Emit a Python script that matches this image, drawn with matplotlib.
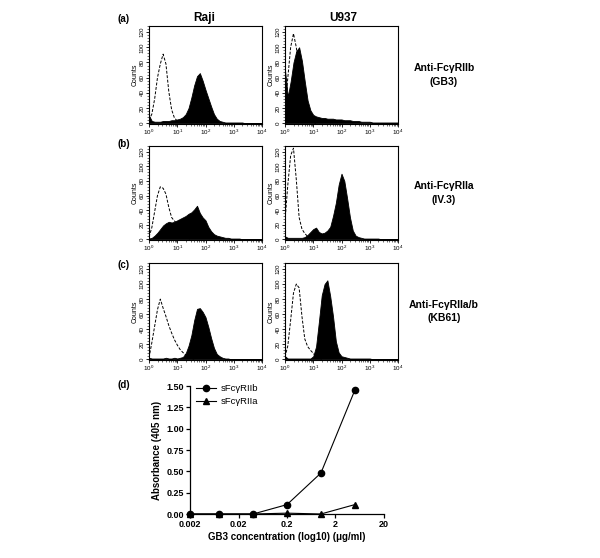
import numpy as np
import matplotlib.pyplot as plt
from matplotlib.ticker import MultipleLocator, LogLocator, NullFormatter

plt.rcParams['font.family'] = ['Liberation Sans', 'DejaVu Sans']

# ==============================================================================
# DATA
# ==============================================================================
# fluorescence channel (log10 units), 0.1 decade steps from 10^0 to 10^4
log_channel = [0.0, 0.1, 0.2, 0.3, 0.4, 0.5, 0.6, 0.7, 0.8, 0.9,
               1.0, 1.1, 1.2, 1.3, 1.4, 1.5, 1.6, 1.7, 1.8, 1.9,
               2.0, 2.1, 2.2, 2.3, 2.4, 2.5, 2.6, 2.7, 2.8, 2.9,
               3.0, 3.1, 3.2, 3.3, 3.4, 3.5, 3.6, 3.7, 3.8, 3.9, 4.0]

# isotype controls (dashed) - only the part above baseline
iso_a_raji = [4, 12, 32, 60, 78, 91, 78, 42, 18, 7, 3, 2, 1, 1, 1, 0]
iso_a_u937 = [20, 60, 100, 118, 100, 70, 35, 12, 5, 2, 1, 0]
iso_b_raji = [3, 16, 38, 60, 72, 70, 62, 44, 30, 25, 22, 12, 6, 3, 1, 0]
iso_b_u937 = [25, 75, 115, 125, 82, 30, 14, 8, 4, 2, 1, 0]
iso_c_raji = [2, 22, 44, 66, 80, 68, 57, 45, 35, 26, 19, 13, 9, 6, 3, 1, 0]
iso_c_u937 = [3, 18, 52, 88, 100, 95, 57, 27, 17, 12, 8, 3, 1, 0]

# specific staining (filled black)
stain_a_raji = [10, 3, 2, 2, 2, 3, 3, 3, 4, 4,
                5, 6, 8, 12, 20, 34, 50, 62, 66, 56,
                44, 33, 22, 12, 6, 3, 2, 1, 1, 1,
                1, 1, 1, 1, 0, 0, 0, 0, 0, 0, 0]
stain_a_u937 = [70, 35, 55, 80, 95, 100, 82, 55, 30, 17,
                11, 9, 8, 7, 7, 6, 6, 6, 5, 5,
                5, 4, 4, 4, 3, 3, 3, 2, 2, 2,
                2, 1, 1, 1, 1, 1, 1, 1, 1, 1, 1]
stain_b_raji = [1, 2, 5, 9, 14, 19, 22, 24, 23, 24,
                26, 28, 30, 32, 35, 37, 41, 46, 36, 30,
                26, 17, 11, 7, 5, 4, 3, 2, 2, 1,
                1, 1, 1, 0, 0, 0, 0, 0, 0, 0, 0]
stain_b_u937 = [4, 2, 2, 2, 2, 2, 2, 3, 6, 10,
                14, 16, 10, 8, 9, 12, 17, 32, 50, 75,
                90, 80, 56, 30, 12, 5, 3, 2, 1, 1,
                1, 1, 1, 1, 0, 0, 0, 0, 0, 0, 0]
stain_c_raji = [2, 1, 1, 1, 1, 1, 2, 1, 1, 2,
                1, 2, 3, 8, 18, 32, 52, 67, 68, 63,
                56, 43, 28, 15, 7, 4, 2, 1, 1, 0,
                0, 0, 0, 0, 0, 0, 0, 0, 0, 0, 0]
stain_c_u937 = [4, 1, 1, 1, 1, 1, 1, 1, 1, 1,
                4, 17, 50, 85, 100, 105, 84, 57, 24, 9,
                4, 3, 2, 1, 1, 1, 1, 1, 1, 1,
                1, 0, 0, 0, 0, 0, 0, 0, 0, 0, 0]

cell_lines = ['Raji', 'U937']
antibodies = ['Anti-FcγRIIb\n(GB3)', 'Anti-FcγRIIa\n(IV.3)', 'Anti-FcγRIIa/b\n(KB61)']
panel_tags = ['(a)', '(b)', '(c)', '(d)']

# ELISA (d)
gb3_conc = [0.002, 0.008, 0.04, 0.2, 1, 5]
abs_sRIIb = [0.0, 0.0, 0.0, 0.11, 0.48, 1.45]
abs_sRIIa = [0.0, 0.0, 0.0, 0.01, 0.0, 0.11]
conc_ticks = [0.002, 0.02, 0.2, 2, 20]
conc_labels = ['0.002', '0.02', '0.2', '2', '20']

# ==============================================================================
# FIGURE
# ==============================================================================
fig = plt.figure(figsize=(6, 5.58), dpi=100)
W, H = 600.0, 558.0


def px_axes(x0, y0, x1, y1):
    # axes from pixel box (top-left origin)
    return fig.add_axes([x0 / W, 1 - y1 / H, (x1 - x0) / W, (y1 - y0) / H])


def draw_hist(ax, iso, stain):
    x = 10.0 ** np.array(log_channel)
    ax.fill_between(x, stain, color='black', lw=0.6, edgecolor='black')
    ax.plot(x[:len(iso)], iso, color='black', ls=(0, (3, 1.6)), lw=0.7)
    ax.set_xscale('log')
    ax.set_xlim(1, 1e4)
    ax.set_ylim(-1, 128)
    ax.set_yticks([0, 20, 40, 60, 80, 100, 120])
    ax.yaxis.set_minor_locator(MultipleLocator(4))
    ax.xaxis.set_major_locator(LogLocator(base=10, numticks=10))
    ax.xaxis.set_minor_locator(LogLocator(base=10, subs=np.arange(2, 10), numticks=10))
    ax.xaxis.set_minor_formatter(NullFormatter())
    ax.tick_params(which='major', labelsize=4.5, length=2, width=0.6, pad=1)
    ax.tick_params(which='minor', length=1.2, width=0.4)
    for lab in ax.get_yticklabels():
        lab.set_rotation(90)
        lab.set_va('center')
    ax.set_ylabel('Counts', fontsize=5, labelpad=1)
    for sp in ax.spines.values():
        sp.set_linewidth(0.8)


rows_px = [(26, 124), (146, 240), (263, 360)]
cols_px = [(149, 262), (285, 398)]
data = [(iso_a_raji, stain_a_raji, iso_a_u937, stain_a_u937),
        (iso_b_raji, stain_b_raji, iso_b_u937, stain_b_u937),
        (iso_c_raji, stain_c_raji, iso_c_u937, stain_c_u937)]

for r, (y0, y1) in enumerate(rows_px):
    iso_l, stain_l, iso_r, stain_r = data[r]
    ax_l = px_axes(cols_px[0][0], y0, cols_px[0][1], y1)
    draw_hist(ax_l, iso_l, stain_l)
    ax_r = px_axes(cols_px[1][0], y0, cols_px[1][1], y1)
    draw_hist(ax_r, iso_r, stain_r)
    fig.text(444 / W, 1 - (y0 + y1) / 2 / H, antibodies[r], ha='center', va='center',
             multialignment='center', fontsize=7.5, fontweight='bold', linespacing=1.45)

# column titles and panel tags
fig.text(204 / W, 1 - 18 / H, cell_lines[0], ha='center', va='center', fontsize=8.5, fontweight='bold')
fig.text(343 / W, 1 - 18 / H, cell_lines[1], ha='center', va='center', fontsize=8.5, fontweight='bold')
for tag, ty in zip(panel_tags, [19, 144, 265, 385]):
    fig.text(124 / W, 1 - ty / H, tag, ha='center', va='center', fontsize=7, fontweight='bold')

# ==============================================================================
# (d) ELISA
# ==============================================================================
axd = px_axes(190, 386, 384, 514)
axd.plot(gb3_conc, abs_sRIIb, '-o', color='black', ms=4.5, lw=0.8, clip_on=False, zorder=3,
         label='sFcγRIIb')
axd.plot(gb3_conc, abs_sRIIa, '-^', color='black', ms=4.5, lw=0.8, clip_on=False, zorder=3,
         label='sFcγRIIa')
axd.set_xscale('log')
axd.set_xlim(0.002, 20)
axd.set_ylim(0, 1.5)
axd.set_xticks(conc_ticks)
axd.set_xticklabels(conc_labels)
axd.xaxis.set_minor_locator(plt.NullLocator())
axd.set_yticks([0, 0.25, 0.5, 0.75, 1.0, 1.25, 1.5])
axd.set_yticklabels(['0.00', '0.25', '0.50', '0.75', '1.00', '1.25', '1.50'])
axd.spines['top'].set_visible(False)
axd.spines['right'].set_visible(False)
for sp in ['left', 'bottom']:
    axd.spines[sp].set_linewidth(0.9)
axd.tick_params(length=3, width=0.9, labelsize=6.5, pad=1.5)
for lab in axd.get_xticklabels() + axd.get_yticklabels():
    lab.set_fontweight('bold')
axd.set_xlabel('GB3 concentration (log10) (μg/ml)', fontsize=7, fontweight='bold', labelpad=2)
axd.set_ylabel('Absorbance (405 nm)', fontsize=7, fontweight='bold', labelpad=3)
axd.legend(loc='upper left', bbox_to_anchor=(0.0, 1.06), frameon=False, fontsize=6.8,
           handlelength=2.2, handletextpad=0.4, labelspacing=0.45, borderaxespad=0.2)

fig.savefig('out.png', dpi=100)
